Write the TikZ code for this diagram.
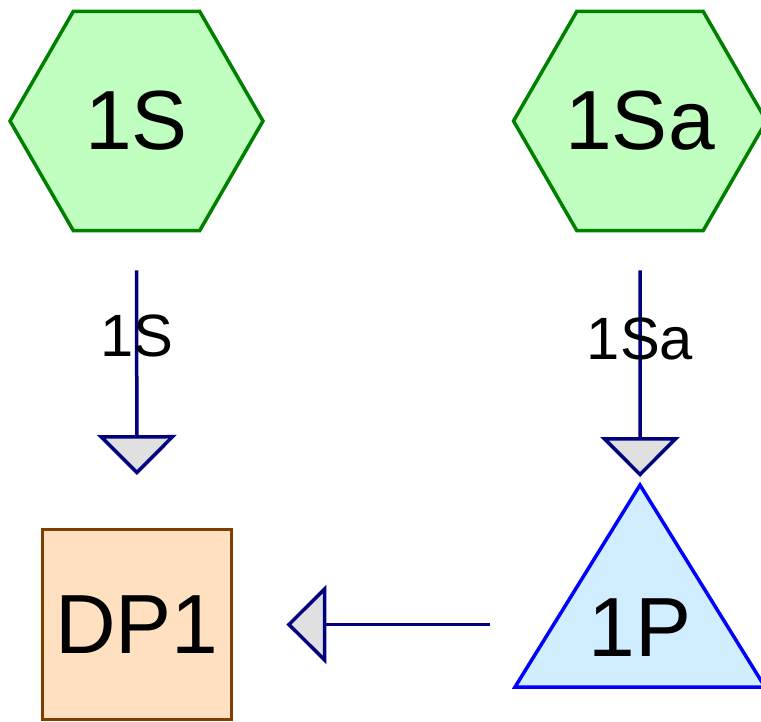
\documentclass[tikz,border=0pt]{standalone}
\usepackage{fontspec}
\setmainfont{Liberation Sans}
\usetikzlibrary{arrows.meta,positioning,shapes.geometric}
\definecolor{Leaf}{HTML}{008000}
\definecolor{LeafBg}{HTML}{C0FFC0}
\definecolor{Sky}{HTML}{0000FF}
\definecolor{SkyBg}{HTML}{D0EEFF}
\definecolor{Bark}{HTML}{7F3F00}
\definecolor{BarkBg}{HTML}{FFE0C0}
\definecolor{Navy}{HTML}{000080}
\definecolor{TipBg}{HTML}{E0E0E0}

\begin{document}
\begin{tikzpicture}[x=0.02cm,y=-0.02cm, hx/.style={regular polygon,regular polygon sides=6,draw=Leaf,fill=LeafBg,line width=0.07cm,minimum size=5.06cm,inner sep=0,font=\fontsize{47.8}{57}\selectfont},
    dp/.style={draw=Bark,fill=BarkBg,line width=0.06cm,minimum size=3.8cm,inner sep=0,font=\fontsize{47.8}{57}\selectfont},
    tri/.style={draw=Sky,fill=SkyBg,line width=0.07cm,line join=miter},
    a/.style={draw=Navy,line width=0.07cm,-{Triangle[length=0.8cm,width=1.58cm,fill=TipBg,line join=miter]}},
    lbl/.style={font=\fontsize{34}{40}\selectfont,inner sep=0}]
    \useasboundingbox (0,0) rectangle (761,721);
    \node[hx] (s1) at (136.5,121) {1S}; \node[hx] (s1a) at (640,121) {1Sa};
    \node[dp] (dp1) at (137,624.5) {DP1};
    % triangle of 1P
    \coordinate (ptop) at (640,485);
    \draw[tri] (ptop) -- (765,687) -- (515,687) -- cycle;
    \node[font=\fontsize{47.8}{57}\selectfont,inner sep=0] (p) at (640,628) {1P};
    \draw[a,shorten <=0.76cm,shorten >=1.06cm] (s1.south) -- (dp1.north) node[pos=0.35,lbl] {1S};
    \draw[a,shorten <=0.76cm,shorten >=0.16cm] (s1a.south) -- (ptop) node[pos=0.42,lbl] {1Sa};
    \draw[a,shorten <=3cm,shorten >=1.06cm] (dp1 -| ptop) -- (dp1.east);
  \end{tikzpicture}
\end{document}
